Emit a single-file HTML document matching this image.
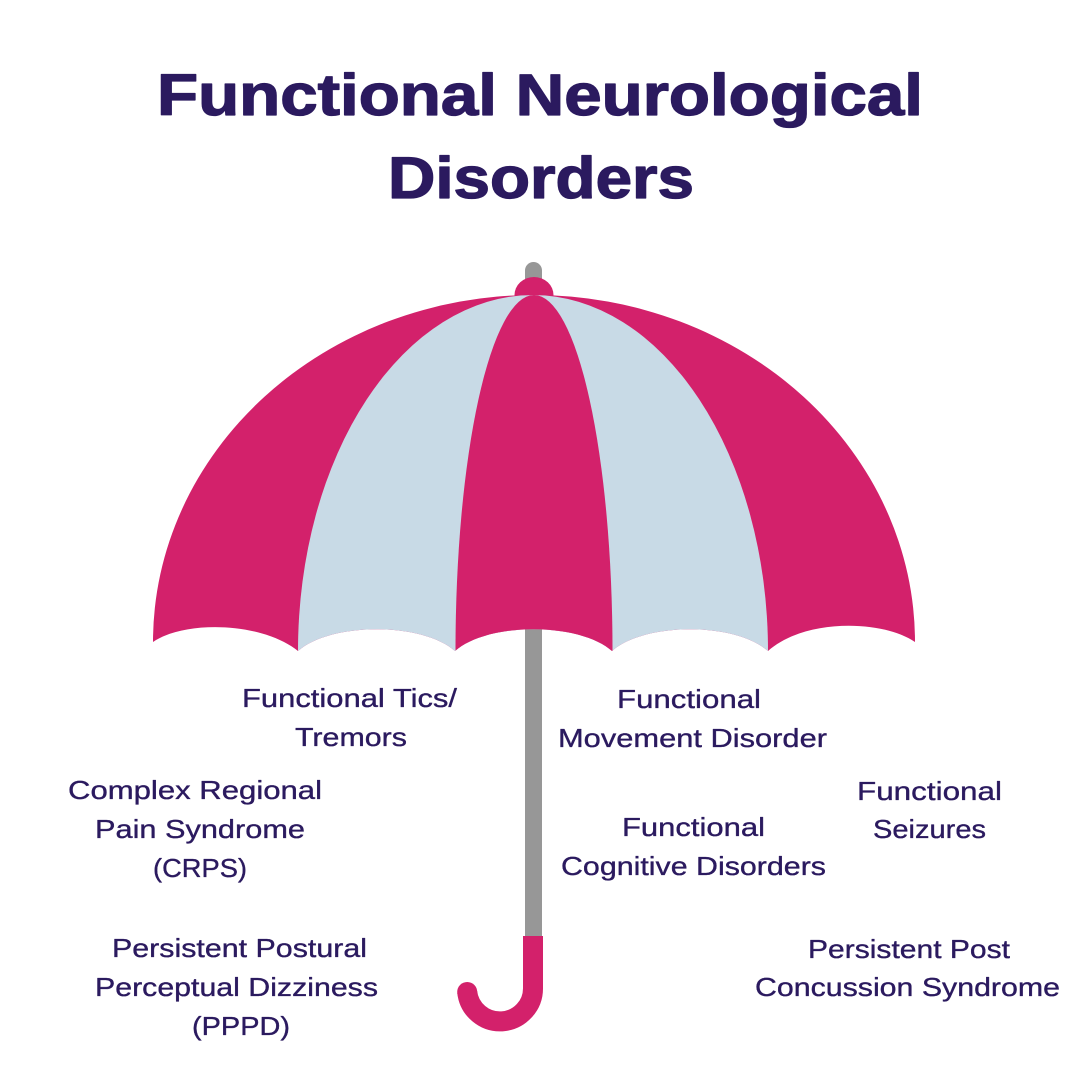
<!DOCTYPE html>
<html>
<head>
<meta charset="utf-8">
<style>
  html,body{margin:0;padding:0;background:#ffffff;}
  body{width:1080px;height:1080px;overflow:hidden;}
  svg{display:block;}
  .t{font-family:"Liberation Sans",sans-serif;font-weight:bold;font-size:58px;fill:#2B1A5F;stroke:#2B1A5F;stroke-width:1.3px;stroke-linejoin:round;}
  .l{font-family:"Liberation Sans",sans-serif;font-size:26px;fill:#2B1A5F;stroke:#2B1A5F;stroke-width:0.35px;stroke-linejoin:round;}
</style>
</head>
<body>
<svg width="1080" height="1080" viewBox="0 0 1080 1080" xmlns="http://www.w3.org/2000/svg">
  <defs>
    <clipPath id="canopy">
      <path d="M153,642 A381,347 0 0 1 915,642
               C883,620 805,618 768,651
               C735,622 645,622 612,651
               C579,622 488,622 455,651
               C422,622 331,622 298,651
               C262,622 185,620 153,642 Z"/>
    </clipPath>
  </defs>

  <!-- title -->
  <text class="t" x="157" y="115" textLength="766" lengthAdjust="spacingAndGlyphs">Functional Neurological</text>
  <text class="t" x="388" y="198" textLength="306" lengthAdjust="spacingAndGlyphs">Disorders</text>

  <!-- pole -->
  <rect x="525" y="262" width="17" height="680" rx="8.5" fill="#979797"/>
  <rect x="525" y="280" width="17" height="660" fill="#979797"/>
  <!-- nub -->
  <ellipse cx="534" cy="295" rx="19.5" ry="18" fill="#D3216B"/>

  <!-- canopy -->
  <g clip-path="url(#canopy)">
    <rect x="100" y="250" width="880" height="450" fill="#D3216B"/>
    <ellipse cx="533" cy="651" rx="235" ry="356" fill="#C8DAE6"/>
    <ellipse cx="534" cy="651" rx="78.5" ry="356" fill="#D3216B"/>
  </g>

  <!-- handle -->
  <path d="M533,936 L533,988 A33,33 0 0 1 467.2,992" fill="none" stroke="#D3216B" stroke-width="20"/>
  <circle cx="467.2" cy="992" r="10" fill="#D3216B"/>

  <!-- labels left -->
  <text class="l" x="242" y="707" textLength="215" lengthAdjust="spacingAndGlyphs">Functional Tics/</text>
  <text class="l" x="295" y="746" textLength="112" lengthAdjust="spacingAndGlyphs">Tremors</text>

  <text class="l" x="68" y="799" textLength="254" lengthAdjust="spacingAndGlyphs">Complex Regional</text>
  <text class="l" x="95" y="838" textLength="210" lengthAdjust="spacingAndGlyphs">Pain Syndrome</text>
  <text class="l" x="153" y="877" textLength="94" lengthAdjust="spacingAndGlyphs">(CRPS)</text>

  <text class="l" x="112" y="957" textLength="255" lengthAdjust="spacingAndGlyphs">Persistent Postural</text>
  <text class="l" x="95" y="996" textLength="283" lengthAdjust="spacingAndGlyphs">Perceptual Dizziness</text>
  <text class="l" x="192" y="1035" textLength="98" lengthAdjust="spacingAndGlyphs">(PPPD)</text>

  <!-- labels right -->
  <text class="l" x="617" y="708" textLength="144" lengthAdjust="spacingAndGlyphs">Functional</text>
  <text class="l" x="558" y="747" textLength="269" lengthAdjust="spacingAndGlyphs">Movement Disorder</text>

  <text class="l" x="857" y="800" textLength="145" lengthAdjust="spacingAndGlyphs">Functional</text>
  <text class="l" x="873" y="838" textLength="113" lengthAdjust="spacingAndGlyphs">Seizures</text>

  <text class="l" x="622" y="836" textLength="143" lengthAdjust="spacingAndGlyphs">Functional</text>
  <text class="l" x="561" y="875" textLength="265" lengthAdjust="spacingAndGlyphs">Cognitive Disorders</text>

  <text class="l" x="808" y="958" textLength="202" lengthAdjust="spacingAndGlyphs">Persistent Post</text>
  <text class="l" x="755" y="996" textLength="305" lengthAdjust="spacingAndGlyphs">Concussion Syndrome</text>
</svg>
</body>
</html>
